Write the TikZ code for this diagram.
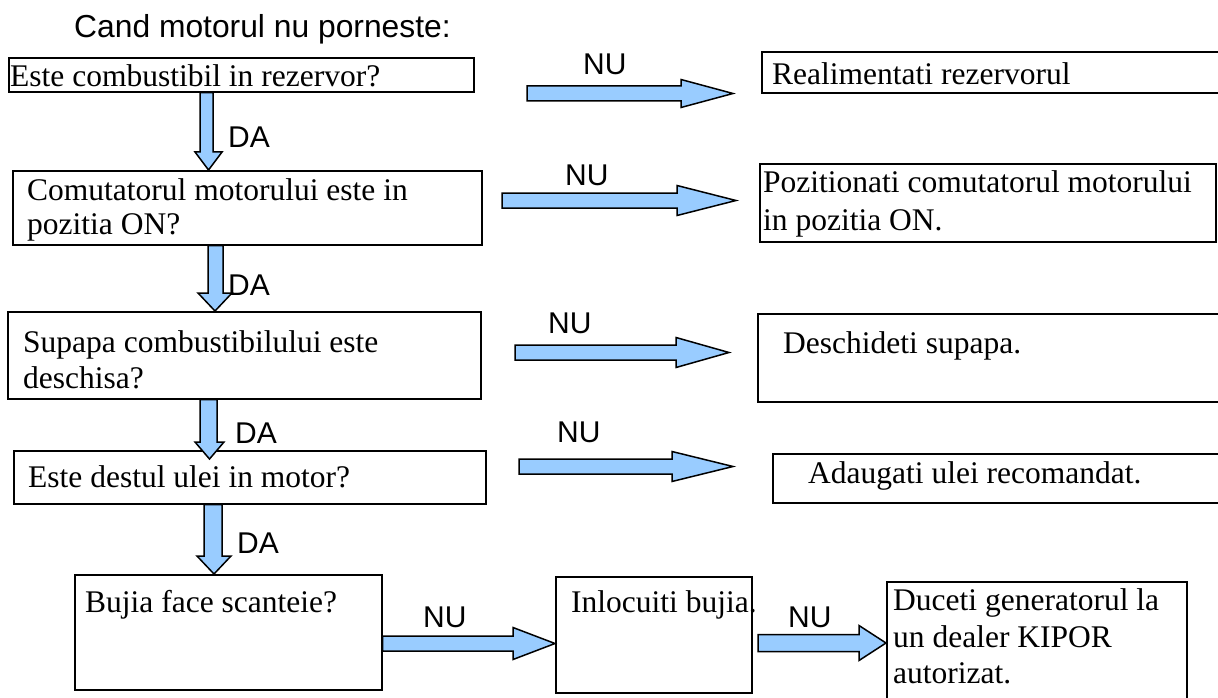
\documentclass[tikz,border=0pt]{standalone}
\usepackage{fontspec}
\setmainfont{Liberation Serif}
\setsansfont{Liberation Sans}
\usetikzlibrary{calc}
\definecolor{arrowblue}{RGB}{153,204,255}
\tikzset{
  box/.style={draw=black, line width=1.6pt, rectangle, inner sep=0pt, anchor=north west},
  txt/.style={anchor=base west, inner sep=0pt, font=\fontsize{31.5}{36}\selectfont},
  lbl/.style={anchor=base west, inner sep=0pt, font=\sffamily\fontsize{30}{34}\selectfont},
  ttl/.style={anchor=base west, inner sep=0pt, font=\sffamily\fontsize{31.8}{36}\selectfont},
  barrow/.style={draw=black, fill=arrowblue, line width=1.5pt, line join=miter}
}
\newcommand\varr[5]{\filldraw[barrow] let \p1=(#1), \p2=(#2) in
  (\x1-#3pt,\y1) -- (\x1-#3pt,\y2+#5pt) -- (\x2-#4pt,\y2+#5pt) -- (\x2,\y2) --
  (\x2+#4pt,\y2+#5pt) -- (\x1+#3pt,\y2+#5pt) -- (\x1+#3pt,\y1) -- cycle;}
\newcommand\harr[5]{\filldraw[barrow] let \p1=(#1), \p2=(#2) in
  (\x1,\y1+#5pt) -- (\x2-#3pt,\y1+#5pt) -- (\x2-#3pt,\y1+#4pt) -- (\x2,\y2) --
  (\x2-#3pt,\y1-#4pt) -- (\x2-#3pt,\y1-#5pt) -- (\x1,\y1-#5pt) -- cycle;}
\begin{document}
\begin{tikzpicture}[x=1pt,y=-1pt]
\path[fill=white,use as bounding box] (0,0) rectangle (1218,698);

% title
\node[ttl] (title) at (74,38) {Cand motorul nu porneste:};

% left column boxes
\node[box, minimum width=465pt, minimum height=34pt] (b1) at (8,57) {};
\node[box, minimum width=469pt, minimum height=74pt] (b2) at (12,170) {};
\node[box, minimum width=473pt, minimum height=87pt] (b3) at (7,311) {};
\node[box, minimum width=472pt, minimum height=53pt] (b4) at (13,450) {};
\node[box, minimum width=307pt, minimum height=115pt] (b5) at (74,574) {};
\node[box, minimum width=196pt, minimum height=116pt] (b6) at (555,576) {};
\node[box, minimum width=300pt, minimum height=135pt] (b7) at (886,581) {};

% right column boxes
\node[box, minimum width=475pt, minimum height=41pt] (r1) at (761,51) {};
\node[box, minimum width=456pt, minimum height=78pt] (r2) at (759,163) {};
\node[box, minimum width=475pt, minimum height=88pt] (r3) at (757,313) {};
\node[box, minimum width=460pt, minimum height=49pt] (r4) at (772,453) {};

% texts
\node[txt] (t1) at (10,87) {Este combustibil in rezervor?};
\node[txt] (t2a) at (27,200) {Comutatorul motorului este in};
\node[txt] (t2b) at (27,234) {pozitia ON?};
\node[txt] (t3a) at (23,352) {Supapa combustibilului este};
\node[txt] (t3b) at (23,388) {deschisa?};
\node[txt] (t4) at (28,487) {Este destul ulei in motor?};
\node[txt] (t5) at (85,612) {Bujia face scanteie?};
\node[txt] (t6) at (571,612) {Inlocuiti bujia.};
\node[txt] (t7a) at (893,610) {Duceti generatorul la};
\node[txt] (t7b) at (893,647) {un dealer KIPOR};
\node[txt] (t7c) at (893,683) {autorizat.};
\node[txt] (tr1) at (772,85) {Realimentati rezervorul};
\node[txt] (tr2a) at (763,193) {Pozitionati comutatorul motorului};
\node[txt] (tr2b) at (763,230) {in pozitia ON.};
\node[txt] (tr3) at (783,353) {Deschideti supapa.};
\node[txt] (tr4) at (808,483) {Adaugati ulei recomandat.};

% labels
\node[lbl] (da1) at (228,148) {DA};
\node[lbl] (da2) at (228,295) {DA};
\node[lbl] (da3) at (235,443) {DA};
\node[lbl] (da4) at (237,553) {DA};
\node[lbl] (nu1) at (583,75) {NU};
\node[lbl] (nu2) at (565,185) {NU};
\node[lbl] (nu3) at (548,333) {NU};
\node[lbl] (nu4) at (557,442) {NU};
\node[lbl] (nu5) at (423,627) {NU};
\node[lbl] (nu6) at (788,627) {NU};

% arrow end coordinates
\coordinate (v1s) at (206.5,0 |- b1.south);
\coordinate (v1e) at (208.5,0 |- b2.north);
\coordinate (v2s) at (215.5,0 |- b2.south);
\coordinate (v2e) at (215,0 |- b3.north);
\coordinate (v3s) at (208.5,0 |- b3.south);
\coordinate (v3e) at (209.5,459);
\coordinate (v4s) at (213,0 |- b4.south);
\coordinate (v4e) at (214,0 |- b5.north);

\coordinate (h1s) at (527,93.5);  \coordinate (h1e) at (733,93.5);
\coordinate (h2s) at (502,200.5); \coordinate (h2e) at (736,200.5);
\coordinate (h3s) at (515,352.5); \coordinate (h3e) at (729,352.5);
\coordinate (h4s) at (519,466.5); \coordinate (h4e) at (733,466.5);
\coordinate (h5s) at (b5.east |- 0,643.5); \coordinate (h5e) at (b6.west |- 0,643.5);
\coordinate (h6s) at (758,643); \coordinate (h6e) at (b7.west |- 0,643);

% vertical DA arrows
\varr{v1s}{v1e}{6.5}{13.5}{18}
\varr{v2s}{v2e}{7.5}{17}{18}
\varr{v3s}{v3e}{8.5}{14.5}{17}
\varr{v4s}{v4e}{9}{17}{18}

% horizontal NU arrows
\harr{h1s}{h1e}{52}{14}{7.5}
\harr{h2s}{h2e}{59}{15}{7.5}
\harr{h3s}{h3e}{53}{15}{7.5}
\harr{h4s}{h4e}{61}{15}{7.5}
\harr{h5s}{h5e}{42}{16}{7.5}
\harr{h6s}{h6e}{27}{17.5}{8.5}
\end{tikzpicture}
\end{document}
